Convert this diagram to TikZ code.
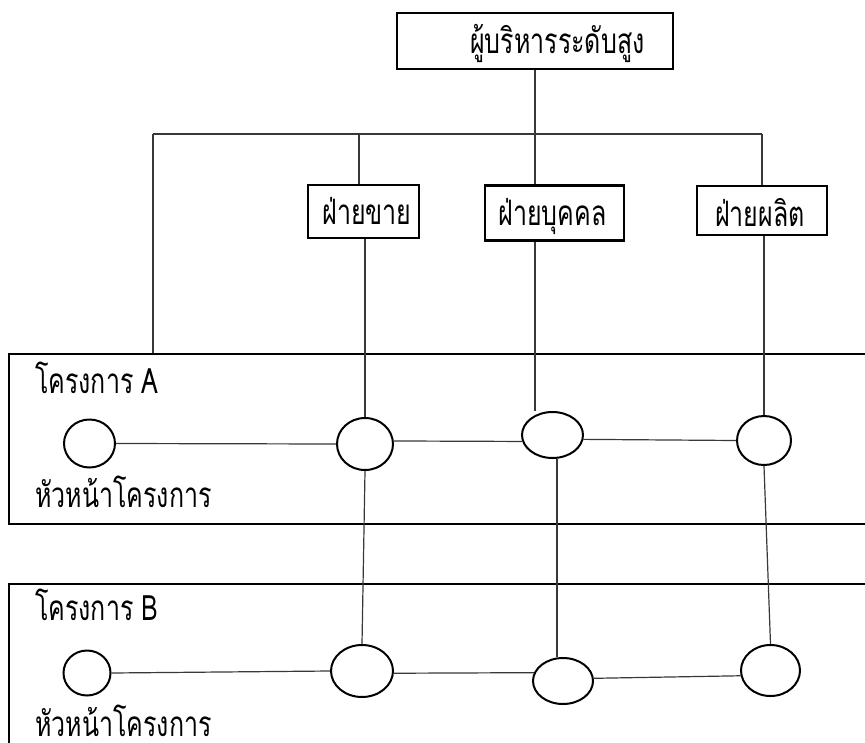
\documentclass[tikz,border=0pt]{standalone}
\usepackage{fontspec}
\usepackage{graphicx}
\newfontfamily\thaifont[Script=Thai]{Loma}
\newcommand{\tallthai}[1]{\scalebox{1}[1.4]{#1}}
\usetikzlibrary{shapes.geometric}
\begin{document}
\begin{tikzpicture}[x=1pt,y=-1pt,
  txt/.style={font=\thaifont\fontsize{25}{30}\selectfont, inner sep=0pt},
  unitbox/.style={draw, line width=2.4pt, inner sep=0pt},
  frame/.style={draw, line width=2.4pt, inner sep=0pt},
  member/.style={draw, ellipse, line width=2pt, inner sep=0pt},
  link/.style={line width=1.2pt, draw=black!78}
]
\clip (0,0) rectangle (865,742);
\fill[white] (0,0) rectangle (865,742);

% management and departments
\node[unitbox, minimum width=276pt, minimum height=56pt] (exec) at (535,41) {};
\node[txt, anchor=base west] (execlabel) at (470,53) {\tallthai{ผู้บริหารระดับสูง}};

\node[unitbox, minimum width=111pt, minimum height=53pt] (sales) at (363.5,211.5) {};
\node[txt, anchor=base] (saleslabel) at (367,224) {\tallthai{ฝ่ายขาย}};
\node[unitbox, minimum width=139pt, minimum height=55pt] (hr) at (554.5,213) {};
\node[txt, anchor=base] (hrlabel) at (552.5,225) {\tallthai{ฝ่ายบุคคล}};
\node[unitbox, minimum width=130pt, minimum height=49pt] (prod) at (762,210.5) {};
\node[txt, anchor=base] (prodlabel) at (760,226) {\tallthai{ฝ่ายผลิต}};

% project frames
\node[frame, anchor=north west, minimum width=880pt, minimum height=170pt] (projA) at (8,353) {};
\node[frame, anchor=north west, minimum width=880pt, minimum height=200pt] (projB) at (8,583) {};
\node[txt, anchor=base west] (projAlabel) at (35,393) {\tallthai{โครงการ A}};
\node[txt, anchor=base west] (leadAlabel) at (35,507) {\tallthai{หัวหน้าโครงการ}};
\node[txt, anchor=base west] (projBlabel) at (35,620) {\tallthai{โครงการ B}};
\node[txt, anchor=base west] (leadBlabel) at (35,736) {\tallthai{หัวหน้าโครงการ}};

% project members
\node[member, minimum width=51pt, minimum height=48pt] (a1) at (89.5,443.5) {};
\node[member, minimum width=56pt, minimum height=52pt] (a2) at (365,444) {};
\node[member, minimum width=61pt, minimum height=46pt] (a3) at (552.5,435) {};
\node[member, minimum width=54pt, minimum height=49pt] (a4) at (764,440.5) {};
\node[member, minimum width=47pt, minimum height=45pt] (b1) at (87,673) {};
\node[member, minimum width=62pt, minimum height=52pt] (b2) at (362,671) {};
\node[member, minimum width=60pt, minimum height=46pt] (b3) at (563,681) {};
\node[member, minimum width=59pt, minimum height=51pt] (b4) at (770.5,670.5) {};

% reporting lines
\coordinate (buswest) at (153,134);
\coordinate (bussales) at (359,134);
\coordinate (buseast) at (762,134);
\coordinate (hrdrop) at (557,0);
\draw[link] (exec.south) -- (exec.south |- hr.north);
\draw[link] (buswest) -- (buseast);
\draw[link] (buswest) -- (buswest |- projA.north);
\draw[link] (bussales) -- (bussales |- sales.north);
\draw[link] (buseast) -- (buseast |- prod.north);

\draw[link] (sales.south -| a2.north) -- (a2.north);
\draw[link] (hr.south -| exec.south) -- (a3.north -| exec.south);
\draw[link] (prod.south -| a4.north) -- (a4.north);

\draw[link] (a2.south) -- (b2.north);
\draw[link] (a3.south -| hrdrop) -- (b3.north -| hrdrop);
\draw[link] (a4.south) -- (b4.north);

% links inside each project
\draw[link] (a1.east) -- (a2.west);
\draw[link] (a2.6) -- (a3.192);
\draw[link] (a3.-8) -- (a4.west);
\draw[link] (b1.east) -- (b2.west);
\draw[link] (b2.-4) -- (b3.164);
\draw[link] (b3.5) -- (b4.190);
\end{tikzpicture}
\end{document}
